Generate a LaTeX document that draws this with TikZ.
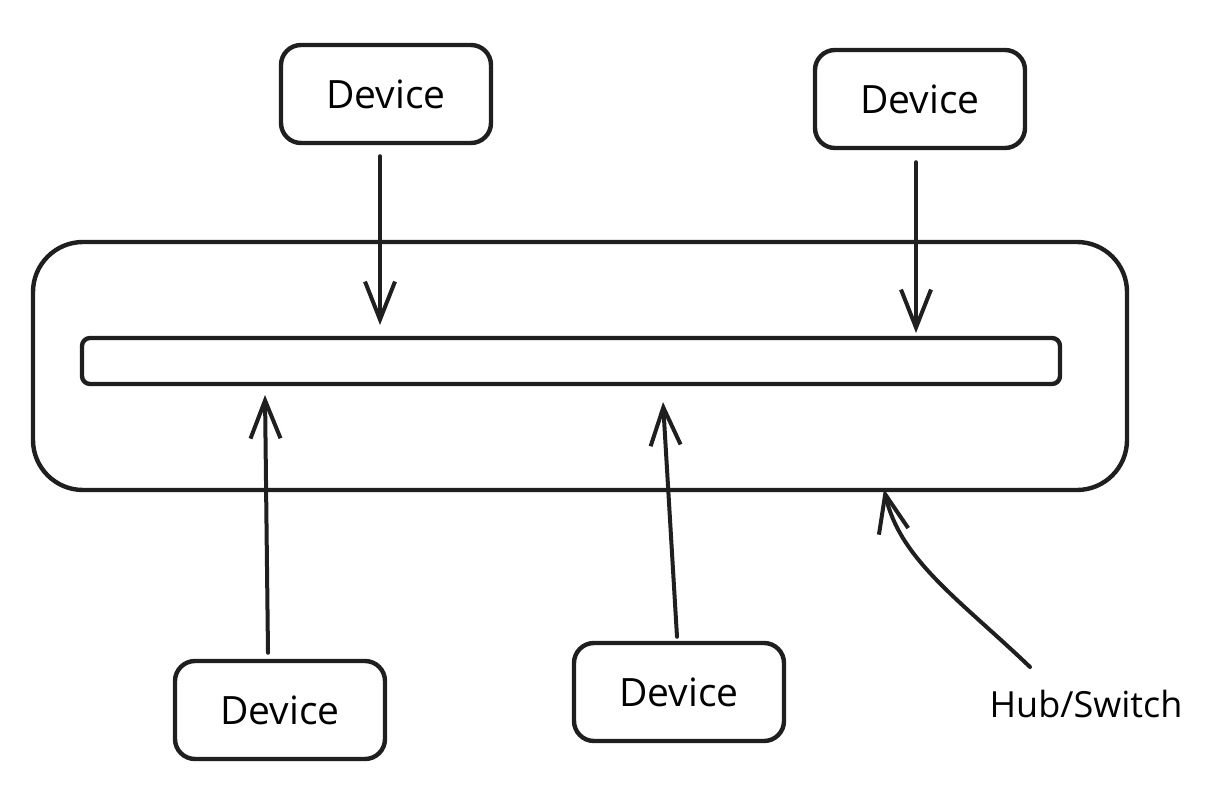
\documentclass[tikz,border=0pt]{standalone}
\usepackage{fontspec}
\setmainfont{Open Sans}
\usetikzlibrary{arrows.meta}
\begin{document}
\begin{tikzpicture}[x=1pt,y=-1pt,
  ink/.style={draw=black!88, line width=4.4pt, line join=round, line cap=round},
  devbox/.style={ink, rounded corners=20pt, minimum width=210pt, minimum height=98pt,
    font=\fontsize{39}{44}\selectfont, inner sep=0pt},
  link/.style={draw=black!88, line width=4pt, line cap=round,
    -{Straight Barb[length=38pt,width=30pt,line width=4pt]}},
  ]
  \useasboundingbox (0,0) rectangle (1212,786);

  % hub / switch casing and backplane
  \node[ink, rounded corners=50pt, minimum width=1094pt, minimum height=248pt, inner sep=0pt]
    (hub) at (580,366) {};
  \node[ink, rounded corners=8pt, minimum width=978pt, minimum height=46pt, inner sep=0pt]
    (bus) at (571,361) {};

  % attached devices
  \node[devbox] (d1) at (386,94) {Device};
  \node[devbox] (d2) at (920,99) {Device};
  \node[devbox] (d3) at (280,710) {Device};
  \node[devbox] (d4) at (679,692) {Device};

  % port connections
  \coordinate (p1) at (380,325);
  \coordinate (p2) at (916,333);
  \coordinate (p3) at (265,395);
  \coordinate (p4) at (663,402);
  \draw[link] (d1.south -| p1) ++(0,11) -- (p1);
  \draw[link] (d2.south -| p2) ++(0,12) -- (p2);
  \draw[link] (d3.north -| p3) ++(3,-6) -- (p3);
  \draw[link] (d4.north) ++(-2,-4) -- (p4);

  % label pointing at the casing
  \node[font=\fontsize{36}{40}\selectfont, anchor=center] (lbl) at (1086,704) {Hub/Switch};
  \coordinate (lblend) at (1030,667);
  \coordinate (hubpt) at (884,489);
  \draw[link] (lblend) .. controls (960,600) and (900,560) .. (hubpt);
\end{tikzpicture}
\end{document}
